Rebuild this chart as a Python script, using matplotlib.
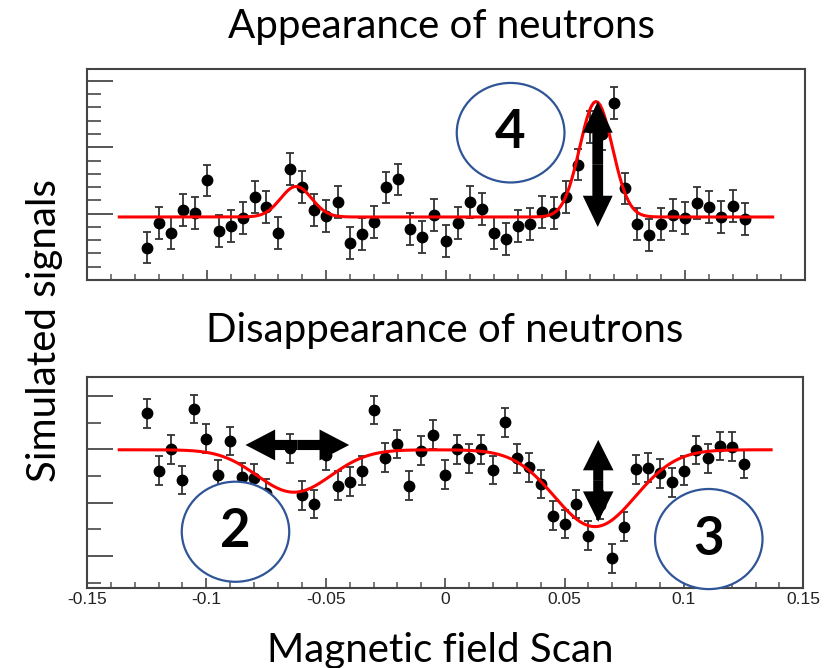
import numpy as np
from matplotlib import pyplot as plt
from matplotlib.patches import Ellipse, FancyArrow
from matplotlib.ticker import MultipleLocator, FuncFormatter

# magnetic field scan points (same grid for both panels)
scan_x = np.linspace(-0.125, 0.125, 51)

# appearance of neutrons: measured signal
appear_y = [1.49, 1.855, 1.715, 2.055, 2.015, 2.50, 1.735, 1.815, 1.935, 2.255,
            2.105, 1.715, 2.675, 2.40, 2.055, 1.96, 2.175, 1.555, 1.70, 1.875,
            2.395, 2.515, 1.775, 1.65, 1.975, 1.59,
            1.855, 2.18, 2.075, 1.715, 1.615, 1.815, 1.84, 2.03, 2.005, 2.255,
            2.74, 3.30, 3.20, 3.665, 2.38, 1.84, 1.675, 1.84, 1.975, 1.94,
            2.155, 2.10, 1.955, 2.115, 1.915]
appear_err = 0.24

# disappearance of neutrons: measured signal
disap_y = [2.675, 1.60, 2.00, 1.425, 2.755, 2.195, 1.52, 2.155, 1.475, 1.455,
           1.18, 0.55, 2.02, 1.14, 0.975, 1.89, 1.32, 1.39, 1.60, 2.735,
           1.845, 2.10, 1.32, 1.975, 2.27, 1.52,
           2.00, 1.83, 2.00, 1.61, 2.505, 1.83, 1.66, 1.35, 0.755, 0.60,
           0.975, 0.38, 0.955, -0.045, 0.55, 1.625, 1.655, 1.55, 1.38, 1.60,
           1.985, 1.83, 2.06, 2.05, 1.725]
disap_err = 0.27

# fitted curves: baseline + gaussians (center, amplitude, sigma)
fit_range = (-0.1365, 0.1365)
appear_base = 1.95
appear_peaks = [(-0.0626, 0.46, 0.0065), (0.0627, 1.74, 0.0068)]
disap_base = 1.99
disap_peaks = [(-0.0633, -0.795, 0.0155), (0.0627, -1.44, 0.017)]

BIG_FONT = ['Lato', 'DejaVu Sans']
CIRCLE_COLOR = '#2F5597'


def fit_curve(base, peaks):
    xs = np.linspace(fit_range[0], fit_range[1], 300)
    ys = np.full_like(xs, base)
    for c, a, s in peaks:
        ys += a * np.exp(-0.5 * ((xs - c) / s) ** 2)
    return xs, ys


def double_arrow(ax, x0, y0, x1, y1, shaft, head_w, head_l):
    xm, ym = (x0 + x1) / 2, (y0 + y1) / 2
    for xe, ye in [(x0, y0), (x1, y1)]:
        ax.add_patch(FancyArrow(xm, ym, xe - xm, ye - ym, width=shaft,
                                head_width=head_w, head_length=head_l,
                                length_includes_head=True, color='black',
                                lw=0, zorder=6, clip_on=False))


def numbered_circle(ax, cx, cy, w, h, label):
    ax.add_patch(Ellipse((cx, cy), w, h, facecolor='white', edgecolor=CIRCLE_COLOR,
                         lw=1.6, zorder=5, clip_on=False))
    ax.text(cx, cy, label, ha='center', va='center', fontsize=38,
            fontweight='bold', family=BIG_FONT, zorder=7)


def style_axes(ax, ylim, ymajor, yminor, show_xlabels):
    ax.set_xlim(-0.15, 0.15)
    ax.set_ylim(*ylim)
    ax.xaxis.set_major_locator(MultipleLocator(0.05))
    ax.xaxis.set_minor_locator(MultipleLocator(0.01))
    ax.xaxis.set_major_formatter(FuncFormatter(lambda v, pos: '%g' % round(v, 4)))
    ax.yaxis.set_major_locator(MultipleLocator(ymajor))
    ax.yaxis.set_minor_locator(MultipleLocator(yminor))
    ax.tick_params(axis='x', which='major', direction='in', length=7, width=1.3,
                   color='#555555', labelbottom=show_xlabels, labelsize=12.5,
                   labelcolor='#222222', pad=3)
    ax.tick_params(axis='x', which='minor', direction='in', length=4, width=1.1,
                   color='#555555')
    ax.tick_params(axis='y', which='major', direction='in', length=19, width=1.4,
                   color='#555555', labelleft=False)
    ax.tick_params(axis='y', which='minor', direction='in', length=10, width=1.3,
                   color='#555555')
    for sp in ax.spines.values():
        sp.set_color('#444444')
        sp.set_linewidth(1.5)
    for lbl in ax.get_xticklabels():
        lbl.set_family(['Liberation Sans', 'DejaVu Sans'])


fig = plt.figure(figsize=(8.33, 6.68), dpi=100)
ax_top = fig.add_axes([0.1044, 0.5808, 0.862, 0.3159])
ax_bot = fig.add_axes([0.1044, 0.1198, 0.860, 0.3163])

for ax, ys, err, base, peaks in [(ax_top, appear_y, appear_err, appear_base, appear_peaks),
                                 (ax_bot, disap_y, disap_err, disap_base, disap_peaks)]:
    ax.errorbar(scan_x, ys, yerr=err, fmt='o', color='black', ms=7.5,
                ecolor='#333333', elinewidth=1.3, capsize=3, capthick=1.3, zorder=2)
    fx, fy = fit_curve(base, peaks)
    ax.plot(fx, fy, color='red', lw=2.2, zorder=3)

style_axes(ax_top, (1.0, 4.18), 1.0, 0.2, False)
style_axes(ax_bot, (-0.6, 3.36), 1.0, 0.5, True)

# annotations
numbered_circle(ax_top, 0.027, 3.22, 0.045, 1.5, '4')
double_arrow(ax_top, 0.0634, 1.80, 0.0634, 3.69, 0.0045, 0.0125, 0.47)

numbered_circle(ax_bot, -0.0878, 0.454, 0.045, 1.876, '2')
numbered_circle(ax_bot, 0.1104, 0.317, 0.045, 1.876, '3')
double_arrow(ax_bot, -0.0836, 2.08, -0.0402, 2.08, 0.19, 0.58, 0.0124)
double_arrow(ax_bot, 0.0641, 0.64, 0.0641, 2.175, 0.0042, 0.0128, 0.57)

fig.text(0.530, 0.943, 'Appearance of neutrons', ha='center', va='baseline',
         fontsize=29, family=BIG_FONT)
fig.text(0.534, 0.4885, 'Disappearance of neutrons', ha='center', va='baseline',
         fontsize=29, family=BIG_FONT)
fig.text(0.529, 0.0094, 'Magnetic field Scan', ha='center', va='baseline',
         fontsize=29, family=BIG_FONT)
fig.text(0.054, 0.5045, 'Simulated signals', ha='center', va='center',
         rotation=90, fontsize=29, family=BIG_FONT)

fig.savefig('out.png', dpi=100)
